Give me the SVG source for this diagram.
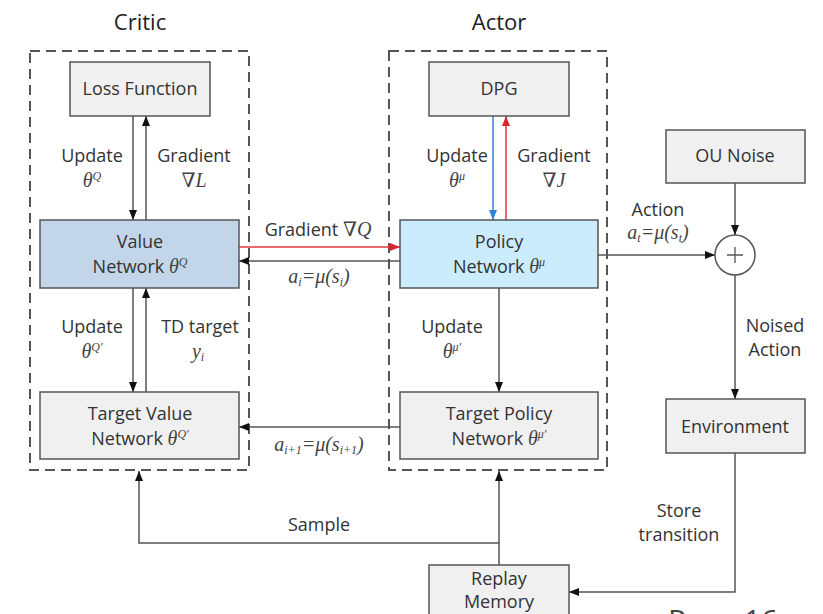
<svg xmlns="http://www.w3.org/2000/svg" width="823" height="614" viewBox="0 0 823 614">
  <style>
    .bg { fill: #ffffff; }
    .box { fill: #f0f0f0; stroke: #555555; stroke-width: 1.5; }
    .value { fill: #c3d6e9; }
    .policy { fill: #cbecfd; }
    .frame { fill: none; stroke: #555555; stroke-width: 2; stroke-dasharray: 10 6; }
    .wire { fill: none; stroke: #555555; stroke-width: 1.5; }
    .red { stroke: #e0393e; }
    .blue { stroke: #2b86d8; }
    text { font-family: "Open Sans", "Liberation Sans", sans-serif; font-size: 18px; fill: #333333; text-anchor: middle; }
    .title { font-size: 22px; fill: #222222; }
    .m { font-family: "Liberation Serif", "DejaVu Serif", serif; font-style: italic; font-size: 20px; fill: #444444; }
    .up { font-size: 12px; }
    .page { font-size: 30px; text-anchor: start; fill: #444444; }
  </style>
  <defs>
    <marker id="ah" viewBox="0 0 10 10" refX="10" refY="5" markerWidth="10" markerHeight="10" markerUnits="userSpaceOnUse" orient="auto">
      <path d="M0,1 L10,5 L0,9 z" fill="#111111"/>
    </marker>
    <marker id="ah-red" viewBox="0 0 10 10" refX="10" refY="5" markerWidth="10" markerHeight="10" markerUnits="userSpaceOnUse" orient="auto">
      <path d="M0,1 L10,5 L0,9 z" fill="#d8262c"/>
    </marker>
    <marker id="ah-blue" viewBox="0 0 10 10" refX="10" refY="5" markerWidth="10" markerHeight="10" markerUnits="userSpaceOnUse" orient="auto">
      <path d="M0,1 L10,5 L0,9 z" fill="#2b86d8"/>
    </marker>
  </defs>

  <rect class="bg" x="0" y="0" width="823" height="614"/>

  <!-- group frames -->
  <g id="critic">
    <text class="title" x="140" y="30">Critic</text>
    <rect class="frame" x="30" y="51" width="219" height="419"/>
  </g>
  <g id="actor">
    <text class="title" x="499" y="30">Actor</text>
    <rect class="frame" x="389" y="51" width="218" height="419"/>
  </g>

  <!-- connectors -->
  <g id="connectors">
    <line class="wire" x1="133" y1="116" x2="133" y2="220" marker-end="url(#ah)"/>
    <line class="wire" x1="146" y1="220" x2="146" y2="116" marker-end="url(#ah)"/>
    <line class="wire" x1="133" y1="288" x2="133" y2="392" marker-end="url(#ah)"/>
    <line class="wire" x1="146" y1="392" x2="146" y2="288" marker-end="url(#ah)"/>
    <line class="wire blue" x1="493" y1="116" x2="493" y2="220" marker-end="url(#ah-blue)"/>
    <line class="wire red" x1="506" y1="220" x2="506" y2="116" marker-end="url(#ah-red)"/>
    <line class="wire red" x1="239" y1="247" x2="400" y2="247" marker-end="url(#ah-red)"/>
    <line class="wire" x1="400" y1="261" x2="239" y2="261" marker-end="url(#ah)"/>
    <line class="wire" x1="499" y1="288" x2="499" y2="392" marker-end="url(#ah)"/>
    <line class="wire" x1="400" y1="427" x2="239" y2="427" marker-end="url(#ah)"/>
    <line class="wire" x1="598" y1="255" x2="715" y2="255" marker-end="url(#ah)"/>
    <line class="wire" x1="735" y1="183" x2="735" y2="235" marker-end="url(#ah)"/>
    <line class="wire" x1="735" y1="275" x2="735" y2="399" marker-end="url(#ah)"/>
    <path class="wire" d="M735,453 V592 H569" marker-end="url(#ah)"/>
    <path class="wire" d="M499,565 V543 H139 V471" marker-end="url(#ah)"/>
    <line class="wire" x1="499" y1="543" x2="499" y2="471" marker-end="url(#ah)"/>
  </g>

  <!-- connector labels -->
  <g id="labels">
    <text x="92" y="162">Update</text>
    <text class="m" x="92" y="187">θ<tspan class="up" dy="-7">Q</tspan></text>
    <text x="194" y="162">Gradient</text>
    <text class="m" x="194" y="187"><tspan font-style="normal">∇</tspan>L</text>

    <text x="92" y="333">Update</text>
    <text class="m" x="92" y="358">θ<tspan class="up" dy="-7">Q′</tspan></text>
    <text x="200" y="333">TD target</text>
    <text class="m" x="198" y="358">y<tspan class="up" dy="3">i</tspan></text>

    <text x="457" y="162">Update</text>
    <text class="m" x="457" y="187">θ<tspan class="up" dy="-7">μ</tspan></text>
    <text x="554" y="162">Gradient</text>
    <text class="m" x="554" y="187"><tspan font-style="normal">∇</tspan>J</text>

    <text x="318" y="236">Gradient <tspan class="m"><tspan font-style="normal">∇</tspan>Q</tspan></text>
    <text class="m" x="319" y="283">a<tspan class="up" dy="3">i</tspan><tspan dy="-3">=μ(s</tspan><tspan class="up" dy="3">i</tspan><tspan dy="-3">)</tspan></text>

    <text x="452" y="333">Update</text>
    <text class="m" x="452" y="358">θ<tspan class="up" dy="-7">μ′</tspan></text>

    <text class="m" x="319" y="451">a<tspan class="up" dy="3">i+1</tspan><tspan dy="-3">=μ(s</tspan><tspan class="up" dy="3">i+1</tspan><tspan dy="-3">)</tspan></text>

    <text x="658" y="216">Action</text>
    <text class="m" x="658" y="239">a<tspan class="up" dy="3">t</tspan><tspan dy="-3">=μ(s</tspan><tspan class="up" dy="3">t</tspan><tspan dy="-3">)</tspan></text>

    <text x="775" y="332">Noised</text>
    <text x="775" y="356">Action</text>

    <text x="679" y="517">Store</text>
    <text x="679" y="541">transition</text>

    <text x="319" y="531">Sample</text>
  </g>

  <!-- nodes -->
  <g id="loss-function">
    <rect class="box" x="70" y="62" width="140" height="54"/>
    <text x="140" y="95">Loss Function</text>
  </g>
  <g id="dpg">
    <rect class="box" x="429" y="62" width="140" height="54"/>
    <text x="499" y="95">DPG</text>
  </g>
  <g id="value-network">
    <rect class="box value" x="40" y="220" width="199" height="68"/>
    <text x="140" y="248">Value</text>
    <text x="140" y="273">Network <tspan class="m">θ<tspan class="up" dy="-7">Q</tspan></tspan></text>
  </g>
  <g id="target-value-network">
    <rect class="box" x="40" y="392" width="199" height="67"/>
    <text x="140" y="420">Target Value</text>
    <text x="140" y="445">Network <tspan class="m">θ<tspan class="up" dy="-7">Q′</tspan></tspan></text>
  </g>
  <g id="policy-network">
    <rect class="box policy" x="400" y="220" width="198" height="68"/>
    <text x="499" y="248">Policy</text>
    <text x="499" y="273">Network <tspan class="m">θ<tspan class="up" dy="-7">μ</tspan></tspan></text>
  </g>
  <g id="target-policy-network">
    <rect class="box" x="400" y="392" width="198" height="67"/>
    <text x="499" y="420">Target Policy</text>
    <text x="499" y="445">Network <tspan class="m">θ<tspan class="up" dy="-7">μ′</tspan></tspan></text>
  </g>
  <g id="ou-noise">
    <rect class="box" x="666" y="130" width="139" height="53"/>
    <text x="735" y="162">OU Noise</text>
  </g>
  <g id="sum">
    <circle cx="735" cy="255" r="20" fill="#ffffff" stroke="#555555" stroke-width="1.5"/>
    <path d="M727,255 H743 M735,247 V263" stroke="#555555" stroke-width="1.3" fill="none"/>
  </g>
  <g id="environment">
    <rect class="box" x="666" y="399" width="139" height="54"/>
    <text x="735" y="433">Environment</text>
  </g>
  <g id="replay-memory">
    <rect class="box" x="429" y="565" width="140" height="60"/>
    <text x="499" y="585">Replay</text>
    <text x="499" y="608">Memory</text>
  </g>

  <text class="page" x="668" y="631">Page 16</text>
</svg>
